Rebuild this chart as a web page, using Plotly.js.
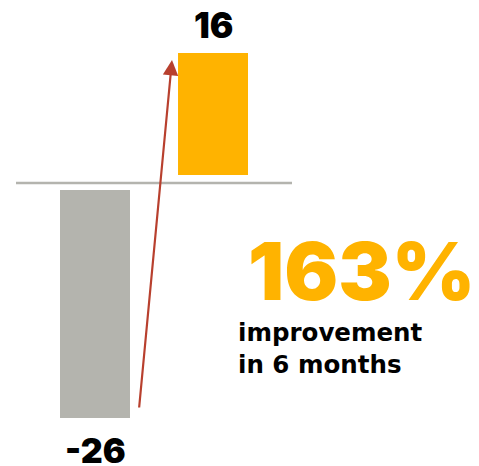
<!DOCTYPE html>
<html><head><meta charset="utf-8">
<script src="https://cdn.plot.ly/plotly-3.0.1.min.js"></script>
<style>html,body{margin:0;padding:0;background:#fff;}#chart{width:479px;height:466px;}</style>
</head><body><div id="chart"></div>
<script>
const categories = ["Before", "After"];
const beforeValues = [-26];
const afterValues = [16];
const valueLabels = ["-26", "16"];
const headline = "163%";
const subline = ["improvement", "in 6 months"];

const traces = [
  {type: "bar", x: [categories[0]], y: beforeValues, base: [-0.8], width: 0.593,
   marker: {color: "#b4b4ae"}, yaxis: "y", hoverinfo: "skip"},
  {type: "bar", x: [categories[1]], y: afterValues, base: [1.05], width: 0.593,
   marker: {color: "#ffb300"}, yaxis: "y2", hoverinfo: "skip"}
];

const numFont = {family: "Inter", weight: 900};

const layout = {
  width: 479, height: 466,
  margin: {l: 0, r: 0, t: 0, b: 0},
  paper_bgcolor: "#fff", plot_bgcolor: "#fff",
  showlegend: false,
  xaxis: {type: "category", range: [-0.805, 3.254], visible: false, fixedrange: true},
  yaxis: {range: [-32.27, 20.87], visible: false, fixedrange: true},
  yaxis2: {range: [-37.11, 24.0], visible: false, overlaying: "y", fixedrange: true},
  shapes: [
    {type: "line", xref: "paper", yref: "y", x0: 16/479, x1: 292/479, y0: 0, y1: 0,
     line: {color: "#b4b4ae", width: 2.5}}
  ],
  annotations: [
    {x: categories[1], y: afterValues[0] + 1.05, yref: "y2", text: valueLabels[1], showarrow: false,
     yanchor: "bottom", yshift: 6, borderpad: 0, font: Object.assign({size: 35, color: "#000"}, numFont)},
    {x: categories[0], y: beforeValues[0] - 0.8, yref: "y", text: valueLabels[0], showarrow: false,
     yanchor: "top", yshift: -11, borderpad: 0, font: Object.assign({size: 34, color: "#000"}, numFont)},
    {xref: "paper", yref: "paper", x: 246/479, y: 1 - 270/466, xanchor: "left", yanchor: "middle",
     text: headline, showarrow: false, font: Object.assign({size: 80, color: "#ffb300"}, numFont)},
    {xref: "paper", yref: "paper", x: 236/479, y: 1 - 332/466, xanchor: "left", yanchor: "middle",
     text: subline[0], showarrow: false, font: {family: "DejaVu Sans", size: 24.5, color: "#000", weight: 700}},
    {xref: "paper", yref: "paper", x: 236/479, y: 1 - 364/466, xanchor: "left", yanchor: "middle",
     text: subline[1], showarrow: false, font: {family: "DejaVu Sans", size: 24.5, color: "#000", weight: 700}},
    {xref: "paper", yref: "paper", x: 172/479, y: 1 - 60/466, axref: "pixel", ayref: "pixel",
     ax: -33, ay: 349, text: "", showarrow: true, arrowhead: 2, arrowsize: 1.4, arrowwidth: 2.2,
     arrowcolor: "#b8402e"}
  ]
};

Plotly.newPlot("chart", traces, layout, {displayModeBar: false, staticPlot: true});
</script>
</body></html>
